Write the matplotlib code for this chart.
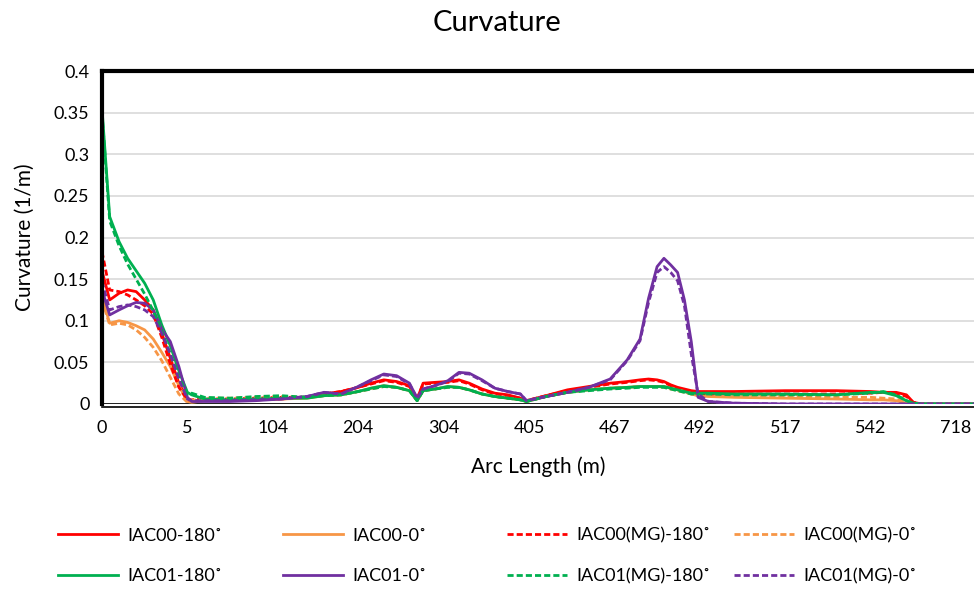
import numpy as np
import matplotlib.pyplot as plt
from matplotlib.lines import Line2D

plt.rcParams['font.family'] = ['Lato', 'DejaVu Sans']

# category tick labels along the arc
arc_labels = ['0', '5', '104', '204', '304', '405', '467', '492', '517', '542', '718']

# sample positions in category units (0 = first label, 1 = next label, ...)
pos = [0, 0.09, 0.2, 0.3, 0.4, 0.5, 0.6, 0.7, 0.8, 0.9, 1.0, 1.05,
       1.2, 1.5, 1.8, 2.1, 2.4, 2.6, 2.8, 3.0, 3.15, 3.3, 3.45, 3.6, 3.69, 3.76,
       3.9, 4.05, 4.18, 4.3, 4.45, 4.6, 4.75, 4.9, 4.97, 5.2, 5.45, 5.7, 5.95,
       6.15, 6.3, 6.4, 6.5, 6.58, 6.66, 6.74, 6.82, 6.9, 6.98, 7.1, 7.4, 8.0,
       8.6, 9.0, 9.15, 9.3, 9.42, 9.5, 9.6, 10.3]

iac00_180 = [0.160, 0.125, 0.133, 0.137, 0.135, 0.125, 0.113, 0.085, 0.055, 0.025, 0.006, 0.004,
             0.004, 0.004, 0.005, 0.006, 0.008, 0.012, 0.015, 0.020, 0.025, 0.029, 0.027, 0.022, 0.006, 0.025,
             0.026, 0.027, 0.029, 0.025, 0.018, 0.013, 0.011, 0.007, 0.004, 0.010, 0.017, 0.021, 0.025,
             0.027, 0.029, 0.030, 0.029, 0.027, 0.023, 0.020, 0.018, 0.016, 0.015, 0.015, 0.015, 0.016,
             0.016, 0.015, 0.014, 0.014, 0.011, 0.002, 0.0, 0.0]
iac00_0 = [0.129, 0.097, 0.100, 0.098, 0.094, 0.089, 0.078, 0.062, 0.045, 0.022, 0.003, 0.002,
           0.004, 0.004, 0.005, 0.006, 0.007, 0.010, 0.011, 0.015, 0.019, 0.022, 0.020, 0.016, 0.004, 0.016,
           0.018, 0.021, 0.020, 0.017, 0.012, 0.009, 0.007, 0.005, 0.003, 0.009, 0.014, 0.017, 0.019,
           0.020, 0.021, 0.021, 0.021, 0.021, 0.019, 0.017, 0.015, 0.012, 0.010, 0.009, 0.008, 0.007,
           0.006, 0.005, 0.005, 0.004, 0.001, 0.0, 0.0, 0.0]
iac00mg_180 = [0.183, 0.137, 0.135, 0.131, 0.125, 0.118, 0.108, 0.080, 0.048, 0.020, 0.005, 0.005,
               0.006, 0.006, 0.007, 0.008, 0.008, 0.012, 0.015, 0.020, 0.024, 0.028, 0.026, 0.021, 0.006, 0.024,
               0.025, 0.026, 0.028, 0.024, 0.017, 0.012, 0.010, 0.007, 0.004, 0.010, 0.016, 0.020, 0.024,
               0.026, 0.028, 0.029, 0.028, 0.026, 0.022, 0.019, 0.016, 0.014, 0.013, 0.012, 0.012, 0.012,
               0.012, 0.013, 0.014, 0.013, 0.009, 0.002, 0.0, 0.0]
iac00mg_0 = [0.125, 0.095, 0.097, 0.095, 0.089, 0.080, 0.068, 0.052, 0.032, 0.012, 0.002, 0.004,
             0.007, 0.007, 0.008, 0.009, 0.008, 0.010, 0.011, 0.015, 0.018, 0.021, 0.020, 0.016, 0.004, 0.016,
             0.018, 0.020, 0.020, 0.017, 0.012, 0.009, 0.007, 0.005, 0.003, 0.009, 0.014, 0.017, 0.019,
             0.020, 0.021, 0.021, 0.021, 0.020, 0.018, 0.016, 0.014, 0.012, 0.010, 0.010, 0.009, 0.009,
             0.008, 0.008, 0.007, 0.006, 0.002, 0.0, 0.0, 0.0]
iac01_180 = [0.355, 0.225, 0.195, 0.175, 0.160, 0.145, 0.125, 0.095, 0.070, 0.040, 0.014, 0.011,
             0.006, 0.005, 0.006, 0.007, 0.007, 0.010, 0.011, 0.015, 0.019, 0.022, 0.020, 0.016, 0.004, 0.016,
             0.018, 0.021, 0.020, 0.017, 0.012, 0.009, 0.007, 0.005, 0.003, 0.009, 0.014, 0.017, 0.019,
             0.020, 0.021, 0.021, 0.021, 0.021, 0.019, 0.017, 0.015, 0.013, 0.013, 0.013, 0.012, 0.012,
             0.011, 0.014, 0.014, 0.010, 0.004, 0.001, 0.0, 0.0]
iac01_0 = [0.137, 0.107, 0.113, 0.118, 0.122, 0.121, 0.113, 0.090, 0.075, 0.045, 0.008, 0.003,
           0.003, 0.003, 0.004, 0.006, 0.009, 0.014, 0.012, 0.021, 0.029, 0.036, 0.034, 0.025, 0.007, 0.018,
           0.022, 0.028, 0.038, 0.037, 0.029, 0.019, 0.015, 0.012, 0.004, 0.009, 0.014, 0.020, 0.030,
           0.053, 0.078, 0.127, 0.165, 0.175, 0.167, 0.158, 0.125, 0.075, 0.008, 0.003, 0.001, 0.0,
           0.0, 0.0, 0.0, 0.0, 0.0, 0.0, 0.0, 0.0]
iac01mg_180 = [0.350, 0.220, 0.190, 0.168, 0.150, 0.132, 0.112, 0.088, 0.060, 0.032, 0.012, 0.013,
               0.008, 0.007, 0.009, 0.010, 0.008, 0.010, 0.011, 0.015, 0.018, 0.021, 0.020, 0.016, 0.004, 0.016,
               0.018, 0.020, 0.020, 0.017, 0.012, 0.009, 0.007, 0.005, 0.003, 0.009, 0.014, 0.016, 0.018,
               0.019, 0.020, 0.020, 0.020, 0.020, 0.018, 0.016, 0.014, 0.012, 0.012, 0.012, 0.011, 0.011,
               0.011, 0.013, 0.015, 0.011, 0.004, 0.001, 0.0, 0.0]
iac01mg_0 = [0.147, 0.113, 0.117, 0.119, 0.117, 0.113, 0.105, 0.085, 0.060, 0.030, 0.006, 0.004,
             0.004, 0.004, 0.005, 0.006, 0.009, 0.014, 0.012, 0.021, 0.028, 0.035, 0.033, 0.024, 0.007, 0.018,
             0.022, 0.027, 0.037, 0.036, 0.028, 0.019, 0.015, 0.012, 0.004, 0.009, 0.014, 0.020, 0.029,
             0.052, 0.076, 0.122, 0.158, 0.165, 0.158, 0.148, 0.118, 0.060, 0.012, 0.003, 0.001, 0.0,
             0.0, 0.0, 0.0, 0.0, 0.0, 0.0, 0.0, 0.0]

series = [
    ('IAC00-180˚', iac00_180, '#FF0000', '-'),
    ('IAC00-0˚', iac00_0, '#F79646', '-'),
    ('IAC00(MG)-180˚', iac00mg_180, '#FF0000', '--'),
    ('IAC00(MG)-0˚', iac00mg_0, '#F79646', '--'),
    ('IAC01-180˚', iac01_180, '#00B050', '-'),
    ('IAC01-0˚', iac01_0, '#7030A0', '-'),
    ('IAC01(MG)-180˚', iac01mg_180, '#00B050', '--'),
    ('IAC01(MG)-0˚', iac01mg_0, '#7030A0', '--'),
]

fig = plt.figure(figsize=(9.74, 5.9), dpi=100)
ax = fig.add_axes([102 / 974, 1 - 404 / 590, 1 - 102 / 974, 333 / 590])

handles = []
for name, vals, col, ls in series:
    if ls == '--':
        ln, = ax.plot(pos, vals, color=col, lw=2, dashes=(2.2, 1.1), label=name)
    else:
        ln, = ax.plot(pos, vals, color=col, lw=2, label=name)
    handles.append(ln)

ax.set_xlim(0, (974 - 102) / 85.4)
ax.set_ylim(0, 0.4)
ax.set_yticks(np.arange(0, 0.401, 0.05))
ax.set_yticklabels(['0', '0.05', '0.1', '0.15', '0.2', '0.25', '0.3', '0.35', '0.4'])
ax.set_xticks(range(len(arc_labels)))
ax.set_xticklabels(arc_labels)
ax.tick_params(length=0, labelsize=13, pad=9)
ax.grid(axis='y', color='#d9d9d9', lw=1.2)
ax.set_axisbelow(True)

for s in ['top', 'left']:
    ax.spines[s].set_linewidth(3)
    ax.spines[s].set_color('black')
ax.spines['right'].set_visible(False)
ax.spines['bottom'].set_linewidth(1.2)
ax.spines['bottom'].set_position(('outward', 2.5))
ax.axhline(0, color='black', lw=1.2, zorder=1)

ax.set_xlabel('Arc Length (m)', fontsize=15, labelpad=15)
ax.set_ylabel('Curvature (1/m)', fontsize=15, labelpad=14)
fig.text(497 / 974, 1 - 23 / 590, 'Curvature', ha='center', va='center', fontsize=21)

# legend: 4 columns, 2 rows, fixed column starts like the original
col_x = [58, 283, 507, 734]
for i in range(4):
    h = [handles[i], handles[i + 4]]
    fig.legend(handles=h, labels=[x.get_label() for x in h], loc='center left',
               bbox_to_anchor=(col_x[i] / 974, 1 - 556 / 590), frameon=False,
               fontsize=13, handlelength=3.3, handletextpad=0.55, borderpad=0,
               borderaxespad=0, labelspacing=1.35)

fig.savefig('out.png', dpi=100)
